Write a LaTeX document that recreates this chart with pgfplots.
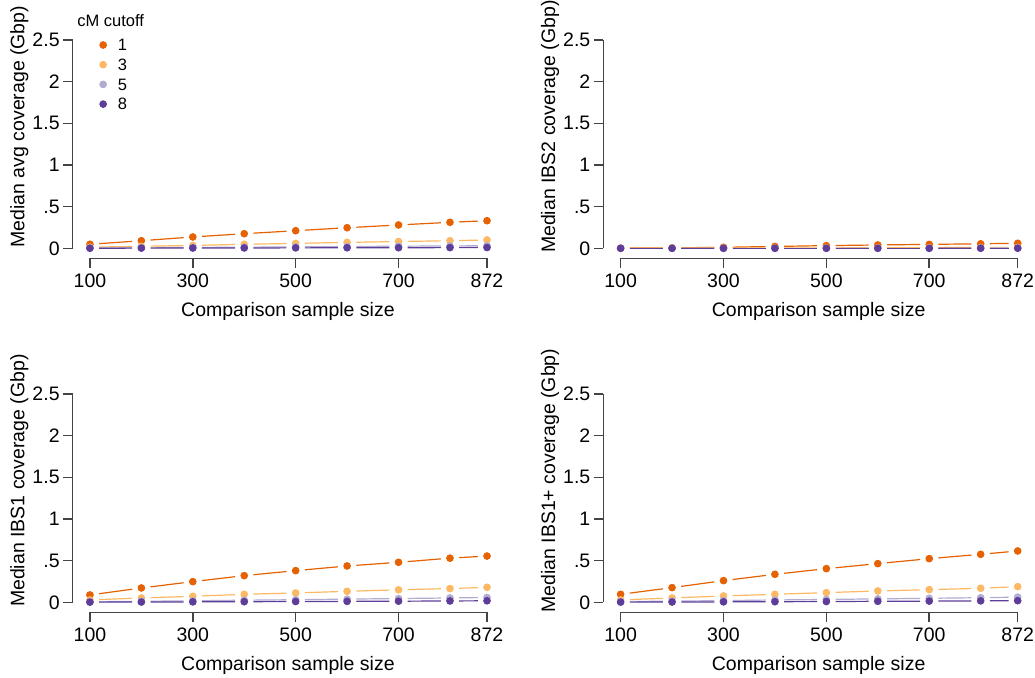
\documentclass[border=0pt]{standalone}
\usepackage{fontspec}
\setmainfont{Liberation Sans}
\usepackage{pgfplots}
\usepackage{pgfplotstable}
\pgfplotsset{compat=1.18}
\definecolor{c1}{HTML}{E66101}
\definecolor{c3}{HTML}{FDB863}
\definecolor{c5}{HTML}{B2ABD2}
\definecolor{c8}{HTML}{5E3C99}
\definecolor{axcol}{HTML}{444444}

\pgfplotstableread{
n c1 c3 c5 c8
100 0.048 0.013 0.003 0.001
200 0.091 0.024 0.007 0.002
300 0.136 0.034 0.010 0.003
400 0.175 0.048 0.013 0.004
500 0.211 0.059 0.017 0.005
600 0.247 0.071 0.021 0.006
700 0.280 0.081 0.025 0.007
800 0.312 0.091 0.028 0.008
872 0.331 0.100 0.031 0.009
}\tabAvg

\pgfplotstableread{
n c1 c3 c5 c8
100 0.002 0.000 0.000 0.000
200 0.005 0.001 0.000 0.000
300 0.012 0.002 0.001 0.000
400 0.022 0.003 0.001 0.000
500 0.032 0.005 0.001 0.000
600 0.040 0.006 0.002 0.000
700 0.047 0.008 0.002 0.000
800 0.054 0.009 0.002 0.001
872 0.060 0.010 0.003 0.001
}\tabIBStwo

\pgfplotstableread{
n c1 c3 c5 c8
100 0.088 0.028 0.006 0.002
200 0.172 0.052 0.012 0.003
300 0.248 0.072 0.018 0.005
400 0.320 0.096 0.025 0.007
500 0.380 0.112 0.031 0.009
600 0.436 0.132 0.038 0.011
700 0.480 0.150 0.045 0.013
800 0.530 0.165 0.052 0.016
872 0.555 0.180 0.058 0.018
}\tabIBSone

\pgfplotstableread{
n c1 c3 c5 c8
100 0.096 0.028 0.008 0.002
200 0.176 0.052 0.014 0.003
300 0.260 0.076 0.020 0.005
400 0.336 0.096 0.028 0.007
500 0.404 0.116 0.034 0.009
600 0.464 0.136 0.041 0.012
700 0.524 0.152 0.048 0.014
800 0.576 0.168 0.055 0.017
872 0.616 0.188 0.062 0.019
}\tabIBSplus

% one series drawn as R type="b": line segments with gaps, then points
\newcommand{\rseries}[3]{%
  \pgfplotsforeachungrouped \a/\b in {0/2,1/3,2/4,3/5,4/6,5/7,6/8,7/9}{%
    \edef\temp{\noexpand\addplot[forget plot, color=#3, line width=0.6pt,
      shorten <=4.6pt, shorten >=4.6pt, no marks,
      skip coords between index={0}{\a}, skip coords between index={\b}{9}]
      table[x=n, y=#2] {\noexpand#1};}\temp
  }%
  \addplot[forget plot, only marks, mark=*, mark size=1.7pt, color=#3,
    mark options={draw=none}] table[x=n, y=#2] {#1};
}
\newcommand{\allseries}[1]{%
  \rseries{#1}{c1}{c1}\rseries{#1}{c3}{c3}\rseries{#1}{c5}{c5}\rseries{#1}{c8}{c8}%
  \draw[axcol, line width=0.75pt] (axis cs:100,-0.12) -- (axis cs:872,-0.12);
  \draw[axcol, line width=0.75pt] (axis cs:66.5,0) -- (axis cs:66.5,2.5);
}

\pgfplotsset{rpanel/.style={
  scale only axis, width=215.25pt, height=134.95pt,
  xmin=66.5, xmax=903.5, ymin=-0.12, ymax=3.12,
  anchor=south west, clip=false,
  axis x line*=bottom, axis y line*=left,
  axis line style={draw=none},
  xtick={100,300,500,700,872}, xticklabels={100,300,500,700,872},
  ytick={0,0.5,1,1.5,2,2.5}, yticklabels={0,.5,1,1.5,2,2.5},
  minor tick num=0,
  tick align=outside, major tick length=4.65pt,
  tick style={axcol, line width=0.75pt},
  ticklabel style={font=\fontsize{9.75}{11.7}\selectfont, inner sep=0pt, text=black},
  xticklabel style={anchor=north, yshift=-2.7pt},
  yticklabel style={anchor=east, xshift=-1.7pt},
  xlabel={Comparison sample size},
  xlabel style={at={(axis description cs:0.5,-0.1979)}, anchor=center,
    font=\fontsize{9.75}{11.7}\selectfont, inner sep=0pt},
  ylabel style={at={(axis description cs:-0.124,0.4877)}, anchor=center,
    rotate=0, font=\fontsize{9.75}{11.7}\selectfont, inner sep=0pt},
}}

\begin{document}
\begin{tikzpicture}
\path[use as bounding box] (0pt,0pt) rectangle (517.5pt,339pt);

\begin{axis}[rpanel, at={(36.35pt,209.85pt)},
  ylabel={Median avg coverage (Gbp)},
  legend image code/.code={\fill[#1] (0pt,0pt) circle (1.7pt);},
  legend cell align=left,
  legend style={at={(axis description cs:0.0619,0.8121)}, anchor=north west,
    draw=none, fill=none, inner sep=0pt, outer sep=0pt,
    row sep=3.95pt, column sep=5.5pt,
    font=\fontsize{8.25}{9.9}\selectfont,
    nodes={inner sep=0pt, text height=5.9pt, text depth=0pt}}]
\addlegendimage{c1}\addlegendentry{1}
\addlegendimage{c3}\addlegendentry{3}
\addlegendimage{c5}\addlegendentry{5}
\addlegendimage{c8}\addlegendentry{8}
\allseries{\tabAvg}
\node[anchor=west, inner sep=0pt, font=\fontsize{8.25}{9.9}\selectfont]
  at (axis description cs:0.01,0.8803) {cM cutoff};
\end{axis}

\begin{axis}[rpanel, at={(301.7pt,209.85pt)},
  ylabel={Median IBS2 coverage (Gbp)}]
\allseries{\tabIBStwo}
\end{axis}

\begin{axis}[rpanel, at={(36.35pt,32.85pt)},
  ylabel={Median IBS1 coverage (Gbp)}]
\allseries{\tabIBSone}
\end{axis}

\begin{axis}[rpanel, at={(301.7pt,32.85pt)},
  ylabel={Median IBS1+ coverage (Gbp)}]
\allseries{\tabIBSplus}
\end{axis}
\end{tikzpicture}
\end{document}
